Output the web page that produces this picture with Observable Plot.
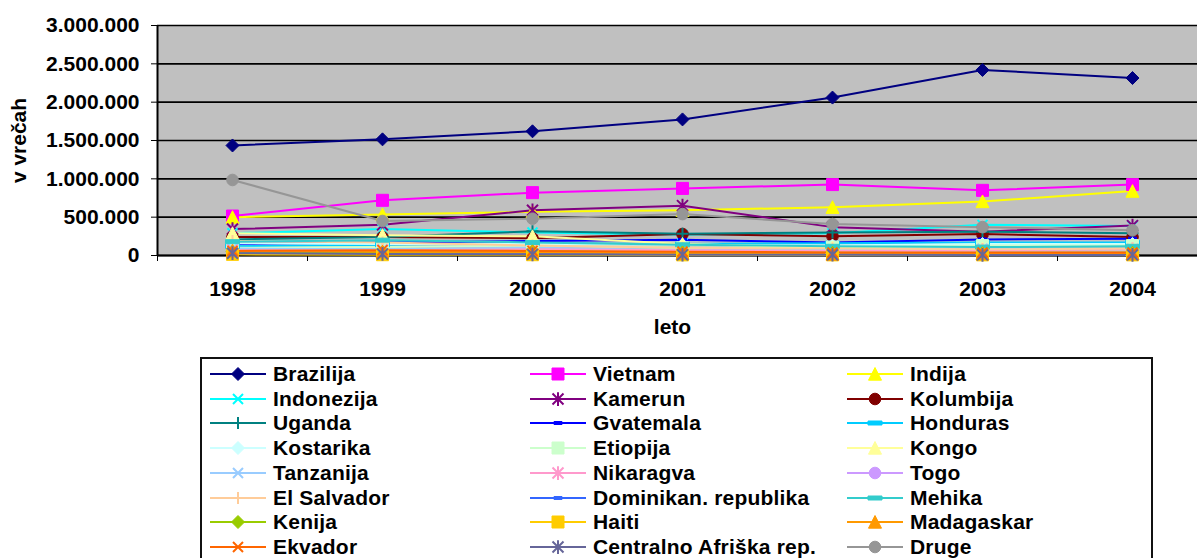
<!DOCTYPE html>
<html><head><meta charset="utf-8">
<script src="https://cdn.jsdelivr.net/npm/d3@7"></script>
<script src="https://cdn.jsdelivr.net/npm/@observablehq/plot@0.6"></script>
<style>
html,body{margin:0;padding:0;background:#fff;overflow:hidden;width:1197px;height:558px;position:relative;}
#chart{position:absolute;left:0;top:0;}
#legend{position:absolute;left:200px;top:357px;width:953px;height:240px;border:2px solid #111;box-sizing:border-box;
  font:bold 21px "Liberation Sans", Arial, sans-serif;color:#000;background:#fff;}
.item{position:absolute;display:flex;align-items:center;height:24px;white-space:nowrap;letter-spacing:0.2px;}
.item svg{margin-right:7px;flex:none;}
</style></head><body>
<div id="chart"></div><div id="legend"></div>
<script>
const years = [1998, 1999, 2000, 2001, 2002, 2003, 2004];
const yTicks = [0, 500000, 1000000, 1500000, 2000000, 2500000, 3000000];
const countries = ["Brazilija","Vietnam","Indija","Indonezija","Kamerun","Kolumbija","Uganda","Gvatemala","Honduras","Kostarika","Etiopija","Kongo","Tanzanija","Nikaragva","Togo","El Salvador","Dominikan. republika","Mehika","Kenija","Haiti","Madagaskar","Ekvador","Centralno Afriška rep.","Druge"];

const brazilija  = [1435000, 1515000, 1620000, 1775000, 2060000, 2420000, 2315000];
const vietnam    = [515000, 720000, 820000, 875000, 925000, 850000, 925000];
const indija     = [500000, 535000, 570000, 590000, 630000, 705000, 840000];
const indonezija = [290000, 345000, 300000, 270000, 290000, 400000, 385000];
const kamerun    = [345000, 400000, 590000, 650000, 370000, 310000, 390000];
const kolumbija  = [240000, 240000, 225000, 280000, 250000, 280000, 240000];
const uganda     = [210000, 240000, 315000, 285000, 300000, 310000, 290000];
const gvatemala  = [150000, 170000, 190000, 205000, 170000, 210000, 220000];
const honduras   = [120000, 140000, 160000, 150000, 160000, 170000, 170000];
const kostarika  = [160000, 150000, 150000, 140000, 130000, 150000, 150000];
const etiopija   = [100000, 110000, 130000, 100000, 110000, 130000, 130000];
const kongo      = [290000, 265000, 250000, 150000, 100000, 90000, 80000];
const tanzanija  = [90000, 80000, 100000, 70000, 80000, 90000, 80000];
const nikaragva  = [70000, 70000, 80000, 70000, 60000, 70000, 80000];
const togo       = [30000, 25000, 20000, 20000, 15000, 15000, 15000];
const elSalvador = [190000, 170000, 130000, 100000, 90000, 80000, 90000];
const dominikan  = [40000, 40000, 35000, 30000, 30000, 25000, 25000];
const mehika     = [180000, 200000, 170000, 140000, 120000, 110000, 120000];
const kenija     = [50000, 45000, 55000, 40000, 35000, 30000, 35000];
const haiti      = [15000, 10000, 10000, 8000, 8000, 8000, 8000];
const madagaskar = [60000, 50000, 45000, 30000, 20000, 25000, 25000];
const ekvador    = [60000, 70000, 60000, 50000, 40000, 40000, 40000];
const centralno  = [30000, 20000, 15000, 10000, 10000, 8000, 8000];
const druge      = [985000, 450000, 480000, 540000, 410000, 370000, 330000];

const values = [brazilija, vietnam, indija, indonezija, kamerun, kolumbija, uganda, gvatemala, honduras, kostarika, etiopija, kongo, tanzanija, nikaragva, togo, elSalvador, dominikan, mehika, kenija, haiti, madagaskar, ekvador, centralno, druge];

const colors = ["#000080","#FF00FF","#FFFF00","#00FFFF","#800080","#800000","#008080","#0000FF","#00CCFF","#CCFFFF","#CCFFCC","#FFFF99","#99CCFF","#FF99CC","#CC99FF","#FFCC99","#3366FF","#33CCCC","#99CC00","#FFCC00","#FF9900","#FF6600","#666699","#969696"];
const markers = ["diamond","square","triangle","times","asterisk","circle","plus","dash","longdash","diamond","square","triangle","times","asterisk","circle","plus","dash","longdash","diamond","square","triangle","times","asterisk","circle"];

const R = s => Math.sqrt(s / Math.PI);
const sym = {
  diamond: {draw(c, s){const r=R(s); c.moveTo(0,-r); c.lineTo(r,0); c.lineTo(0,r); c.lineTo(-r,0); c.closePath();}},
  square: {draw(c, s){const r=R(s); c.rect(-r,-r,2*r,2*r);}},
  triangle: {draw(c, s){const r=R(s); c.moveTo(0,-r); c.lineTo(r,r*0.95); c.lineTo(-r,r*0.95); c.closePath();}},
  times: {draw(c, s){const r=R(s); c.moveTo(-r,-r); c.lineTo(r,r); c.moveTo(r,-r); c.lineTo(-r,r);}},
  asterisk: {draw(c, s){const r=R(s); c.moveTo(-r,-r); c.lineTo(r,r); c.moveTo(r,-r); c.lineTo(-r,r); c.moveTo(0,-r*1.25); c.lineTo(0,r*1.25);}},
  circle: {draw(c, s){const r=R(s); c.moveTo(r,0); c.arc(0,0,r,0,2*Math.PI);}},
  plus: {draw(c, s){const r=R(s); c.moveTo(-r,0); c.lineTo(r,0); c.moveTo(0,-r); c.lineTo(0,r);}},
  dash: {draw(c, s){const r=R(s); c.rect(-r,-1.5,2*r,3);}},
  longdash: {draw(c, s){const r=R(s); c.rect(-r,-2,2*r,4);}}
};
const msize = {diamond:6.5, square:6, triangle:6.5, times:5, asterisk:5.5, circle:5.8, plus:6, dash:4, longdash:7};
const strokeOnly = new Set(["times","asterisk","plus"]);

const rows = countries.flatMap((name, i) => years.map((year, j) => ({name, year, value: values[i][j]})));
const fmt = d => d3.format(",")(d).replace(/,/g, ".");
const xBounds = years.map(y => y - 0.5).concat([years[years.length-1] + 0.5]);

const chart = Plot.plot({
  width: 1197, height: 345,
  marginLeft: 157, marginRight: 0, marginTop: 25, marginBottom: 90,
  style: {fontFamily: '"Liberation Sans", Arial, sans-serif', fontSize: "21px", fontWeight: "bold", color: "#000", background: "transparent"},
  x: {domain: [years[0] - 0.5, years[years.length-1] + 0.5], range: [157, 1207]},
  y: {domain: [0, 3000000]},
  color: {domain: countries, range: colors},
  marks: [
    Plot.frame({fill: "#C0C0C0", stroke: null}),
    Plot.gridY(yTicks, {stroke: "#000", strokeOpacity: 1, strokeWidth: 1.6}),
    Plot.axisY({ticks: yTicks, tickFormat: fmt, tickSize: 6, tickPadding: 12, label: null, stroke: "#000"}),
    Plot.axisX({ticks: years, tickSize: 0, tickPadding: 26, tickFormat: d => String(d), label: null}),
    Plot.axisX({ticks: xBounds, tickSize: 6, tickFormat: () => "", label: null, stroke: "#000"}),
    Plot.ruleY([0], {stroke: "#000", strokeWidth: 2}),
    Plot.ruleX([years[0] - 0.5], {stroke: "#000", strokeWidth: 2}),
    Plot.line(rows, {x: "year", y: "value", z: "name", stroke: "name", strokeWidth: 2}),
    ...countries.map((name, i) => {
      const m = markers[i];
      const so = strokeOnly.has(m);
      return Plot.dot(rows.filter(d => d.name === name), {
        x: "year", y: "value", symbol: sym[m], r: msize[m],
        fill: so ? "none" : colors[i], stroke: colors[i], strokeWidth: so ? 2 : 1
      });
    }),
    Plot.text(["leto"], {frameAnchor: "bottom", dy: 72, dx: -5, text: d => d, fontSize: 21, fontWeight: "bold", lineAnchor: "middle", textAnchor: "middle"}),
    Plot.text(["v vrečah"], {frameAnchor: "left", dx: -138, rotate: -90, text: d => d, fontSize: 21, fontWeight: "bold", lineAnchor: "middle", textAnchor: "middle"})
  ]
});
document.getElementById("chart").appendChild(chart);

// Legend
const legend = document.getElementById("legend");
const colX = [8, 328, 645];
countries.forEach((name, i) => {
  const col = i % 3, row = Math.floor(i / 3);
  const item = document.createElement("div");
  item.className = "item";
  item.style.left = colX[col] + "px";
  item.style.top = (3 + row * 24.7) + "px";
  const m = markers[i];
  const so = strokeOnly.has(m);
  const r = msize[m];
  const path = d3.symbol(sym[m], r * r * Math.PI)();
  const svg = d3.create("svg").attr("width", 56).attr("height", 20);
  svg.append("line").attr("x1", 0).attr("x2", 56).attr("y1", 10).attr("y2", 10).attr("stroke", colors[i]).attr("stroke-width", 2);
  svg.append("path").attr("d", path).attr("transform", "translate(28,10)")
    .attr("fill", so ? "none" : colors[i]).attr("stroke", colors[i]).attr("stroke-width", so ? 2 : 1);
  item.appendChild(svg.node());
  const span = document.createElement("span");
  span.textContent = name;
  item.appendChild(span);
  legend.appendChild(item);
});
</script>
</body></html>
